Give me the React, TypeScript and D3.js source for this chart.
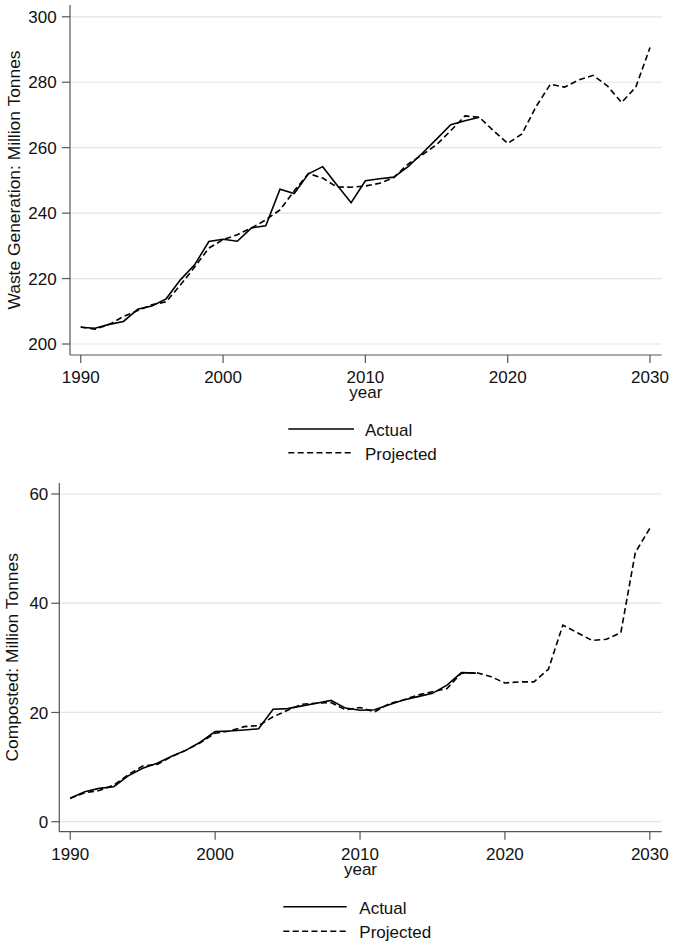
import React from 'react';
import * as d3 from 'd3';

// years on the x axis; actual data stops in 2018, projections run to 2030
const years = d3.range(1990, 2031);
const actualYears = years.filter((y) => y <= 2018);

const wasteActual = [
  205.1, 204.8, 206.0, 206.9, 210.6, 211.6, 213.8, 219.6, 224.2, 231.3,
  232.0, 231.4, 235.5, 236.1, 247.3, 246.0, 252.0, 254.2, 248.6, 243.2,
  249.9, 250.5, 251.0, 254.2, 258.3, 262.6, 267.0, 268.2, 269.3,
];
const wasteProjected = [
  205.2, 204.5, 206.0, 208.4, 210.2, 212.0, 212.9, 218.0, 223.5, 229.3,
  231.9, 233.4, 235.5, 237.9, 241.0, 246.8, 252.1, 250.7, 248.0, 247.9,
  248.3, 249.1, 250.9, 255.0, 257.8, 260.9, 265.2, 269.7, 269.3, 265.2,
  261.3, 264.2, 272.6, 279.4, 278.5, 280.7, 282.1, 278.9, 273.8, 278.5,
  290.6,
];
const compostActual = [
  4.3, 5.5, 6.1, 6.4, 8.4, 9.8, 10.7, 12.0, 13.1, 14.6,
  16.5, 16.6, 16.8, 17.0, 20.6, 20.7, 21.2, 21.7, 22.2, 20.8,
  20.4, 20.5, 21.4, 22.3, 22.9, 23.5, 25.0, 27.3, 27.2,
];
const compostProjected = [
  4.3, 5.3, 5.7, 6.7, 8.6, 10.2, 10.5, 11.9, 13.1, 14.5,
  16.2, 16.6, 17.4, 17.6, 19.2, 20.4, 21.5, 21.7, 21.8, 20.5,
  20.9, 20.1, 21.6, 22.3, 23.2, 23.8, 24.4, 27.2, 27.3, 26.6,
  25.4, 25.6, 25.6, 27.9, 36.0, 34.6, 33.2, 33.4, 34.6, 49.3,
  53.7,
];

const xTicks = [1990, 2000, 2010, 2020, 2030];
const wasteTicks = [200, 220, 240, 260, 280, 300];
const compostTicks = [0, 20, 40, 60];
const legendLabels = ['Actual', 'Projected'];

const FONT = '"Liberation Sans", Arial, sans-serif';
const DASH = '6,3.4';

interface PanelProps {
  left: number;
  right: number;
  top: number;
  bottom: number;
  yDomain: [number, number];
  yTicks: number[];
  labelGap: number;
  title: string;
  titleX: number;
  actual: number[];
  projected: number[];
  legendY: number[];
  legendX: [number, number, number];
}

function Panel(p: PanelProps) {
  const x = d3.scaleLinear().domain([1989.245, 2030.82]).range([p.left, p.right]);
  const y = d3.scaleLinear().domain(p.yDomain).range([p.bottom, p.top]);

  const line = d3
    .line<[number, number]>()
    .x((d) => x(d[0]))
    .y((d) => y(d[1]));

  const actualPath = line(actualYears.map((yr, i) => [yr, p.actual[i]]));
  const projPath = line(years.map((yr, i) => [yr, p.projected[i]]));

  return (
    <g>
      {/* grid */}
      {p.yTicks.map((t) => (
        <line key={'g' + t} x1={p.left} x2={p.right} y1={y(t)} y2={y(t)} stroke="#e4e4e4" strokeWidth={1.2} />
      ))}

      {/* y axis */}
      <line x1={p.left} x2={p.left} y1={p.top} y2={p.bottom} stroke="#555" strokeWidth={1.2} />
      {p.yTicks.map((t) => (
        <g key={'y' + t}>
          <line x1={p.left - 8} x2={p.left} y1={y(t)} y2={y(t)} stroke="#555" strokeWidth={1.2} />
          <text x={p.left - p.labelGap} y={y(t)} dy="0.36em" textAnchor="end" fontSize={17} fill="#111">
            {t}
          </text>
        </g>
      ))}
      <text
        transform={`translate(${p.titleX},${(p.top + p.bottom) / 2}) rotate(-90)`}
        textAnchor="middle"
        fontSize={17.4}
        fill="#111"
      >
        {p.title}
      </text>

      {/* x axis */}
      <line x1={p.left} x2={p.right} y1={p.bottom} y2={p.bottom} stroke="#555" strokeWidth={1.2} />
      {xTicks.map((t) => (
        <g key={'x' + t}>
          <line x1={x(t)} x2={x(t)} y1={p.bottom} y2={p.bottom + 8} stroke="#555" strokeWidth={1.2} />
          <text x={x(t)} y={p.bottom + 28.3} textAnchor="middle" fontSize={17} fill="#111">
            {t}
          </text>
        </g>
      ))}
      <text x={(p.left + p.right) / 2} y={p.bottom + 43.3} textAnchor="middle" fontSize={17} fill="#111">
        year
      </text>

      {/* series */}
      <path d={projPath || ''} fill="none" stroke="#000" strokeWidth={1.6} strokeDasharray={DASH} />
      <path d={actualPath || ''} fill="none" stroke="#000" strokeWidth={1.6} />

      {/* legend */}
      {legendLabels.map((lab, i) => (
        <g key={lab}>
          <line
            x1={p.legendX[0]}
            x2={p.legendX[1]}
            y1={p.legendY[i]}
            y2={p.legendY[i]}
            stroke="#000"
            strokeWidth={1.6}
            strokeDasharray={i === 1 ? DASH : undefined}
          />
          <text x={p.legendX[2]} y={p.legendY[i] + 7} fontSize={17} fill="#111">
            {lab}
          </text>
        </g>
      ))}
    </g>
  );
}

export default function App() {
  return (
    <svg
      width={674}
      height={946}
      style={{ position: 'absolute', left: 0, top: 0, background: '#fff' }}
      fontFamily={FONT}
    >
      <Panel
        left={70}
        right={661.7}
        top={5}
        bottom={355}
        yDomain={[196.64, 303.6]}
        yTicks={wasteTicks}
        labelGap={13.3}
        title="Waste Generation: Million Tonnes"
        titleX={20}
        actual={wasteActual}
        projected={wasteProjected}
        legendY={[429, 452.7]}
        legendX={[288.3, 354, 365]}
      />
      <Panel
        left={59.3}
        right={661.7}
        top={483}
        bottom={831.7}
        yDomain={[-1.83, 62.01]}
        yTicks={compostTicks}
        labelGap={11}
        title="Composted: Million Tonnes"
        titleX={18.3}
        actual={compostActual}
        projected={compostProjected}
        legendY={[906.7, 931.2]}
        legendX={[283.3, 346.7, 359.3]}
      />
    </svg>
  );
}
